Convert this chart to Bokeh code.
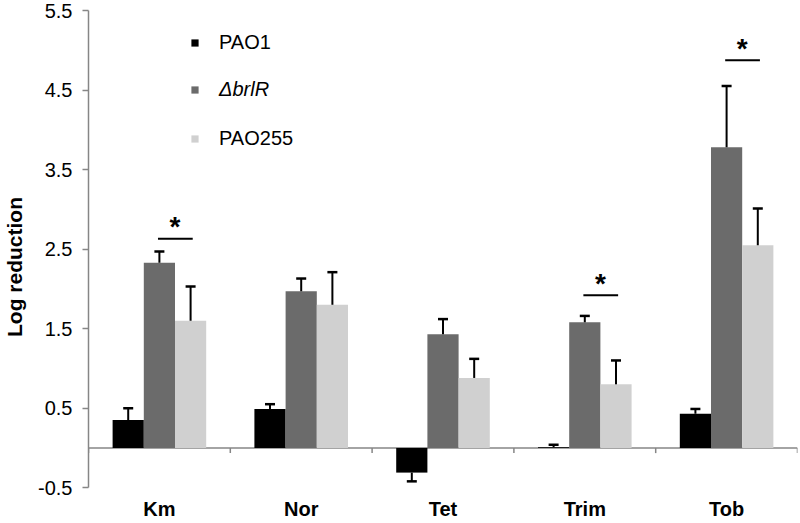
from bokeh.plotting import figure
from bokeh.models import (FactorRange, Range1d, FixedTicker, Legend, LegendItem,
                          ColumnDataSource, Span)
from bokeh.transform import dodge
from bokeh.core.properties import value
from bokeh.embed import file_html
from bokeh.resources import INLINE

# ---------------- data ----------------
categories = ["Km", "Nor", "Tet", "Trim", "Tob"]
strains = ["PAO1", "\u0394brlR", "PAO255"]
pao1 = [0.35, 0.49, -0.31, 0.01, 0.43]
pao1_err = [0.15, 0.06, 0.11, 0.03, 0.06]
brlr = [2.33, 1.97, 1.43, 1.58, 3.78]
brlr_err = [0.14, 0.16, 0.19, 0.08, 0.77]
pao255 = [1.60, 1.80, 0.88, 0.80, 2.55]
pao255_err = [0.43, 0.41, 0.24, 0.30, 0.46]
sig_categories = ["Km", "Trim", "Tob"]
sig_level = [2.63, 1.92, 4.875]
y_ticks = [-0.5, 0.5, 1.5, 2.5, 3.5, 4.5, 5.5]
y_tick_labels = ["-0.5", "0.5", "1.5", "2.5", "3.5", "4.5", "5.5"]
colors = ["#000000", "#6b6b6b", "#d0d0d0"]

series = [pao1, brlr, pao255]
errors = [pao1_err, brlr_err, pao255_err]
offsets = [-0.22, 0.0, 0.22]
BAR_W = 0.22
FONT = "Liberation Sans"
AXIS_GREY = "#868686"

y_lo, y_hi = y_ticks[0], y_ticks[-1]
p = figure(x_range=FactorRange(factors=categories, range_padding=0),
           y_range=Range1d(y_lo - 0.45, y_hi),
           width=798, height=523, output_backend="svg", toolbar_location=None,
           min_border_left=87, min_border_right=1, min_border_top=10,
           min_border_bottom=0)
p.outline_line_color = None
p.grid.visible = False
p.background_fill_color = "white"
p.xaxis.visible = False

# zero line and category boundary ticks
p.add_layout(Span(location=0, dimension="width", line_color=AXIS_GREY,
                  line_width=1.5, level="underlay"))
bounds = list(range(len(categories) + 1))
p.segment(x0=bounds, y0=[0] * len(bounds), x1=bounds, y1=[-0.065] * len(bounds),
          line_color=AXIS_GREY, line_width=1.5)

renderers = []
for vals, errs, off, col in zip(series, errors, offsets, colors):
    tips = [v + e if v >= 0 else v - e for v, e in zip(vals, errs)]
    src = ColumnDataSource(dict(cat=categories, val=vals, tip=tips))
    r = p.vbar(x=dodge("cat", off, range=p.x_range), top="val", bottom=0,
               width=BAR_W, source=src, fill_color=col, line_color=None)
    renderers.append(r)
for vals, errs, off in zip(series, errors, offsets):
    tips = [v + e if v >= 0 else v - e for v, e in zip(vals, errs)]
    src = ColumnDataSource(dict(cat=categories, val=vals, tip=tips))
    xd = dodge("cat", off, range=p.x_range)
    p.segment(x0=xd, y0="val", x1=xd, y1="tip", source=src,
              line_color="black", line_width=2)
    p.scatter(x=xd, y="tip", source=src, marker="dash", size=10,
              line_color="black", line_width=2.5)

# significance markers
sig_src = ColumnDataSource(dict(cat=sig_categories, level=sig_level,
                                star=["*"] * len(sig_categories)))
p.segment(x0=dodge("cat", -0.01, range=p.x_range), y0="level",
          x1=dodge("cat", 0.235, range=p.x_range), y1="level",
          source=sig_src, line_color="black", line_width=2)
p.text(x=dodge("cat", 0.11, range=p.x_range), y="level", text="star",
       source=sig_src, text_align="center", text_baseline="alphabetic",
       y_offset=-12, text_font=value(FONT), text_font_style="bold",
       text_font_size="28px", text_color="black")

# category labels under the plot body
cat_src = ColumnDataSource(dict(cat=categories, y=[y_lo] * len(categories)))
p.text(x="cat", y="y", text="cat", source=cat_src, text_align="center",
       text_baseline="middle", y_offset=21, text_font=value(FONT),
       text_font_style="bold", text_font_size="20px", text_color="black")

# y axis
ya = p.yaxis[0]
ya.ticker = FixedTicker(ticks=y_ticks)
ya.major_label_overrides = dict(zip(y_ticks, y_tick_labels))
ya.bounds = (y_lo, y_hi)
ya.minor_tick_line_color = None
ya.major_tick_out = 6
ya.major_tick_in = 0
ya.axis_line_color = AXIS_GREY
ya.axis_line_width = 1.5
ya.major_tick_line_color = AXIS_GREY
ya.major_tick_line_width = 1.5
ya.major_label_text_font = FONT
ya.major_label_text_font_size = "20px"
ya.major_label_text_color = "black"
ya.major_label_standoff = 10
ya.axis_label = "Log reduction"
ya.axis_label_text_font = FONT
ya.axis_label_text_font_style = "bold"
ya.axis_label_text_font_size = "21px"
ya.axis_label_text_color = "black"
ya.axis_label_standoff = 9

# legend: one per entry so the mutant name can be italic
legend_y = [469, 422, 373]
for i, (name, r) in enumerate(zip(strains, renderers)):
    leg = Legend(items=[LegendItem(label=name, renderers=[r])],
                 location=(102, legend_y[i]), padding=0, margin=0, spacing=0,
                 border_line_color=None, background_fill_alpha=0,
                 glyph_width=9, glyph_height=9, label_standoff=20,
                 label_text_font=FONT, label_text_font_size="20px",
                 label_text_font_style="italic" if i == 1 else "normal",
                 label_text_color="black")
    p.add_layout(leg)

open("out.html", "w").write(file_html(p, INLINE))
